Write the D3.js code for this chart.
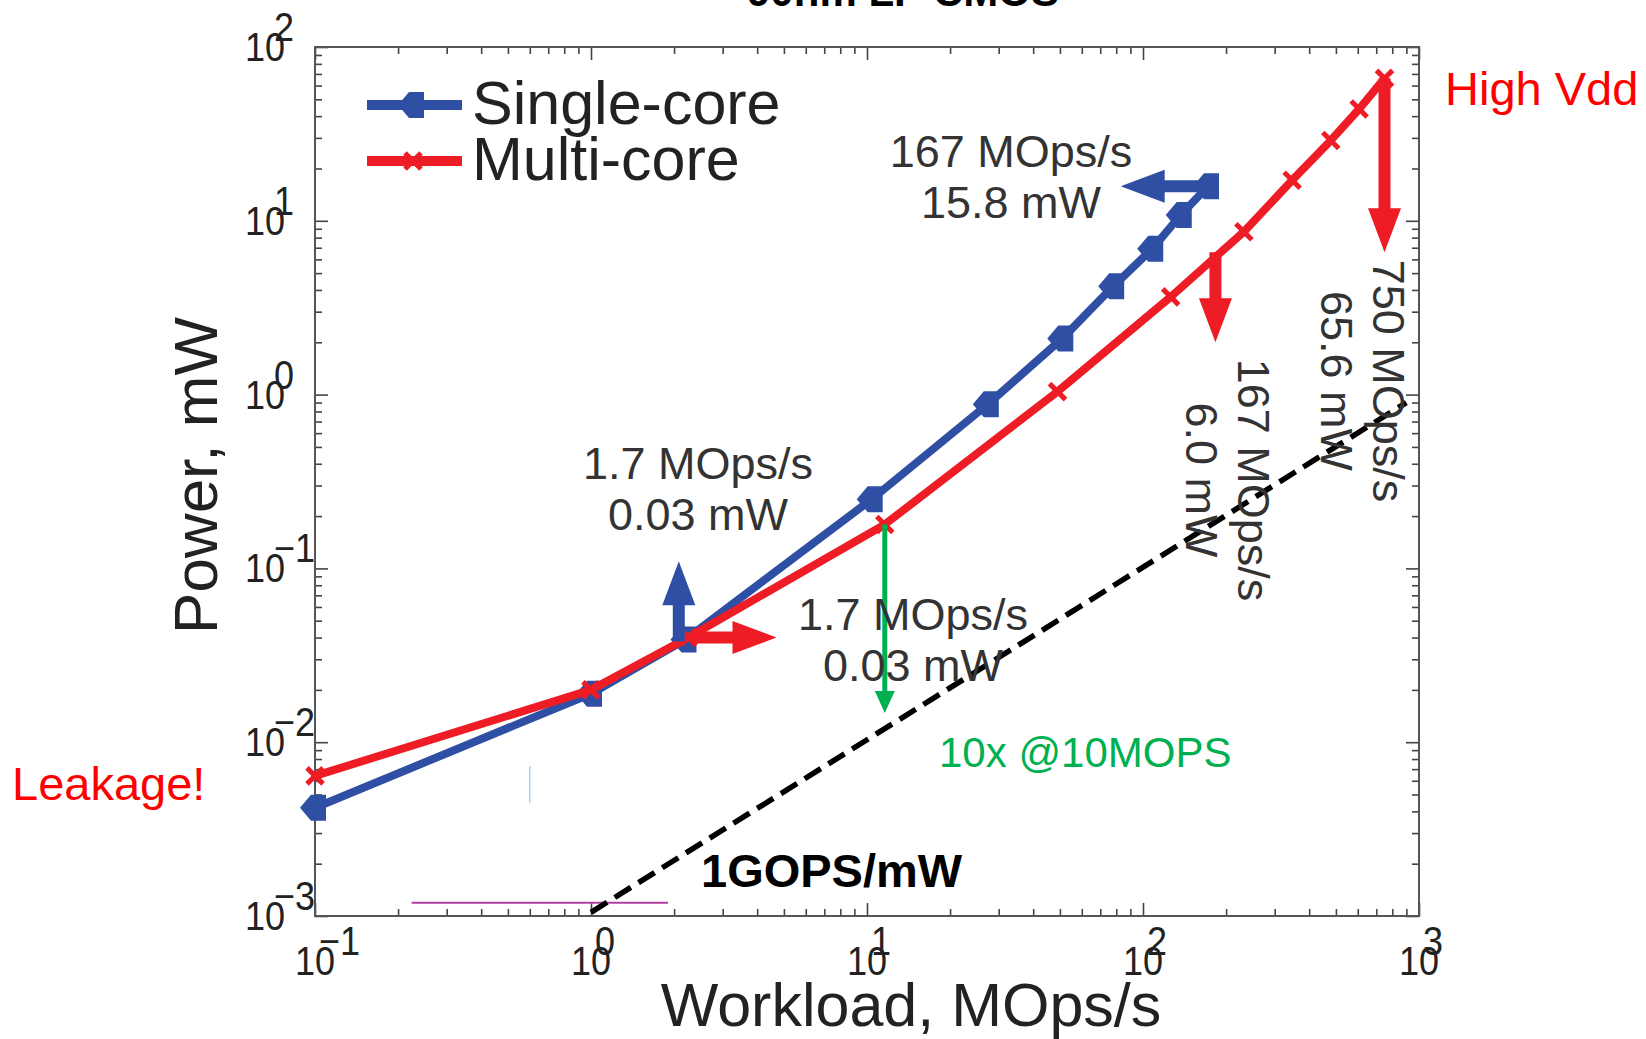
<!DOCTYPE html>
<html>
<head>
<meta charset="utf-8">
<script src="https://cdn.jsdelivr.net/npm/d3@7"></script>
<style>
  body { margin: 0; background: #fff; }
  text { font-family: "Liberation Sans", Arial, sans-serif; }
</style>
</head>
<body>
<script>
// Values
var workloadSingle = [0.1, 1.0, 2.2, 10.4, 27.4, 51, 78, 108, 137, 172];
var powerSingle = [0.0042, 0.019, 0.039, 0.25, 0.88, 2.1, 4.2, 6.9, 10.8, 15.8];
var workloadMulti = [0.1, 1.0, 2.25, 11.6, 49, 126, 232, 347, 479, 607, 750];
var powerMulti = [0.0064, 0.020, 0.040, 0.179, 1.04, 3.65, 8.65, 17.1, 29, 44, 66];
var seriesNames = ['Single-core', 'Multi-core'];

var xTickExp = [-1, 0, 1, 2, 3];
var yTickExp = [-3, -2, -1, 0, 1, 2];

// 1 GOPS/mW reference line
var efficiencyWorkload = [1, 900];
var efficiencyPower = [0.00105, 0.9];

// arrows: start and tip in data units, kind picks the colour
var arrowKind = ['single', 'multi', 'single', 'multi', 'multi', 'gain'];
var arrowStart = [[2.08, 0.038], [2.3, 0.040], [172, 15.8], [183, 6.6], [750, 66], [11.6, 0.179]];
var arrowTip = [[2.08, 0.11], [4.7, 0.040], [83, 15.8], [183, 2.0], [750, 6.6], [11.6, 0.0147]];

// stray marks left in the original figure
var strayPurple = [[0.224, 0.00119], [1.9, 0.00119]];
var strayBlue = [[0.60, 0.0073], [0.60, 0.0045]];

var blue = '#2e4fa3', red = '#ee1c25', green = '#00b050';
var kindColor = {single: blue, multi: red, gain: green};

// Graph dimensions
var margin = {top: 47, right: 227, bottom: 123, left: 315},
    width = 1646 - margin.left - margin.right,
    height = 1039 - margin.top - margin.bottom;

var x = d3.scaleLog().domain([0.1, 1000]).range([0, width]);
var y = d3.scaleLog().domain([0.001, 100]).range([height, 0]);

var svg = d3.select('body').append('svg')
    .attr('width', 1646)
    .attr('height', 1039);

var chart = svg.append('g')
    .attr('transform', 'translate(' + margin.left + ',' + margin.top + ')');

// Ticks on all four sides, pointing inward
var xMinor = [], yMinor = [];
for (var e = -1; e < 3; e++) for (var m = 2; m < 10; m++) xMinor.push(m * Math.pow(10, e));
for (var e2 = -3; e2 < 2; e2++) for (var m2 = 2; m2 < 10; m2++) yMinor.push(m2 * Math.pow(10, e2));
var xMajor = xTickExp.map(function(p) { return Math.pow(10, p); });
var yMajor = yTickExp.map(function(p) { return Math.pow(10, p); });

function tickGroup(axis, vals, len, tr) {
    var g = chart.append('g')
        .attr('transform', tr)
        .call(axis.tickValues(vals).tickSizeInner(-len).tickSizeOuter(0).tickFormat(''));
    g.select('.domain').remove();
    g.selectAll('line').attr('stroke', '#444').attr('stroke-width', 1.6);
}
tickGroup(d3.axisBottom(x), xMinor, 7, 'translate(0,' + height + ')');
tickGroup(d3.axisBottom(x), xMajor, 13, 'translate(0,' + height + ')');
tickGroup(d3.axisTop(x), xMinor, 7, 'translate(0,0)');
tickGroup(d3.axisTop(x), xMajor, 13, 'translate(0,0)');
tickGroup(d3.axisLeft(y), yMinor, 7, 'translate(0,0)');
tickGroup(d3.axisLeft(y), yMajor, 13, 'translate(0,0)');
tickGroup(d3.axisRight(y), yMinor, 7, 'translate(' + width + ',0)');
tickGroup(d3.axisRight(y), yMajor, 13, 'translate(' + width + ',0)');

chart.append('rect')
    .attr('width', width).attr('height', height)
    .attr('fill', 'none').attr('stroke', '#555').attr('stroke-width', 2);

// Tick labels, narrow "10" with an overlapping exponent of the same size
var squeeze = 0.9;
function narrowText(px, py, str, size, anchor) {
    chart.append('text')
        .attr('transform', 'translate(' + px + ',' + py + ') scale(' + squeeze + ',1)')
        .attr('text-anchor', anchor).attr('font-size', size).attr('fill', '#222').text(str);
}
function supText(p) { return p < 0 ? '\u2212' + (-p) : '' + p; }
xTickExp.forEach(function(p) {
    var px = x(Math.pow(10, p));
    narrowText(px, height + 59, '10', 40, 'middle');
    narrowText(px + 4, height + 39, supText(p), 40, 'start');
});
yTickExp.forEach(function(p) {
    var py = y(Math.pow(10, p));
    narrowText(-30, py + 14, '10', 40, 'end');
    narrowText(-41, py - 6, supText(p), 40, 'start');
});

// Axis titles
chart.append('text')
    .attr('x', 596).attr('y', height + 110)
    .attr('text-anchor', 'middle').attr('font-size', 61).attr('fill', '#222')
    .text('Workload, MOps/s');
chart.append('text')
    .attr('transform', 'translate(' + (-98) + ',' + (height / 2 - 6) + ') rotate(-90)')
    .attr('text-anchor', 'middle').attr('font-size', 62).attr('fill', '#222')
    .text('Power, mW');

// Title (cut by the top edge in the original)
svg.append('text')
    .attr('x', 903).attr('y', 6)
    .attr('text-anchor', 'middle').attr('font-size', 42).attr('font-weight', 'bold')
    .text('90nm LP CMOS');

// Stray marks
var line = d3.line()
    .x(function(d) { return x(d[0]); })
    .y(function(d) { return y(d[1]); });
chart.append('path').attr('d', line(strayPurple))
    .attr('stroke', '#b0409f').attr('stroke-width', 2).attr('fill', 'none');
chart.append('path').attr('d', line(strayBlue))
    .attr('stroke', '#9fd3e6').attr('stroke-width', 1.5).attr('fill', 'none');

// 1 GOPS/mW dashed line
chart.append('path')
    .attr('d', line(d3.zip(efficiencyWorkload, efficiencyPower)))
    .attr('stroke', '#000').attr('stroke-width', 5.5)
    .attr('stroke-dasharray', '19,9').attr('fill', 'none');

// Series
var singleData = d3.zip(workloadSingle, powerSingle);
var multiData = d3.zip(workloadMulti, powerMulti);

var blueMarker = 'M-15,0 L-4,-13 L11,-13 L11,13 L-4,13 Z';
function redMarker(g) {
    g.append('path').attr('d', 'M-8,-8 L8,8 M-8,8 L8,-8')
        .attr('stroke', red).attr('stroke-width', 5).attr('fill', 'none');
}

chart.append('path').attr('d', line(singleData))
    .attr('stroke', blue).attr('stroke-width', 8).attr('fill', 'none')
    .attr('stroke-linejoin', 'round');
chart.selectAll('.mSingle').data(singleData).enter().append('path')
    .attr('class', 'mSingle')
    .attr('transform', function(d) { return 'translate(' + x(d[0]) + ',' + y(d[1]) + ')'; })
    .attr('d', blueMarker).attr('fill', blue);

chart.append('path').attr('d', line(multiData))
    .attr('stroke', red).attr('stroke-width', 8).attr('fill', 'none')
    .attr('stroke-linejoin', 'round');
chart.selectAll('.mMulti').data(multiData).enter().append('g')
    .attr('class', 'mMulti')
    .attr('transform', function(d) { return 'translate(' + x(d[0]) + ',' + y(d[1]) + ')'; })
    .each(function() { redMarker(d3.select(this)); });

// Arrows
function arrowPath(x1, y1, x2, y2, shaft, headW, headL) {
    var dx = x2 - x1, dy = y2 - y1, len = Math.sqrt(dx * dx + dy * dy);
    var ux = dx / len, uy = dy / len, nx = -uy, ny = ux;
    var bx = x2 - ux * headL, by = y2 - uy * headL;
    var pts = [
        [x1 + nx * shaft / 2, y1 + ny * shaft / 2],
        [bx + nx * shaft / 2, by + ny * shaft / 2],
        [bx + nx * headW / 2, by + ny * headW / 2],
        [x2, y2],
        [bx - nx * headW / 2, by - ny * headW / 2],
        [bx - nx * shaft / 2, by - ny * shaft / 2],
        [x1 - nx * shaft / 2, y1 - ny * shaft / 2]
    ];
    return 'M' + pts.join('L') + 'Z';
}
arrowKind.forEach(function(k, i) {
    var thin = k === 'gain';
    chart.append('path')
        .attr('d', arrowPath(x(arrowStart[i][0]), y(arrowStart[i][1]),
                             x(arrowTip[i][0]), y(arrowTip[i][1]),
                             thin ? 5 : 12, thin ? 20 : 33, thin ? 22 : 44))
        .attr('fill', kindColor[k]);
});

// Legend
var legend = chart.append('g');
[blue, red].forEach(function(c, i) {
    var ly = 58 + i * 56;
    legend.append('line').attr('x1', 52).attr('x2', 147).attr('y1', ly).attr('y2', ly)
        .attr('stroke', c).attr('stroke-width', 10);
    if (i === 0) {
        legend.append('path').attr('d', blueMarker)
            .attr('transform', 'translate(98,' + ly + ')').attr('fill', blue);
    } else {
        redMarker(legend.append('g').attr('transform', 'translate(98,' + ly + ')'));
    }
    legend.append('text').attr('x', 157).attr('y', ly + 19)
        .attr('font-size', 61).attr('fill', '#222').text(seriesNames[i]);
});

// Annotations
function note(lines, cx, cy, size, color) {
    lines.forEach(function(t, i) {
        svg.append('text').attr('x', cx).attr('y', cy + i * 51)
            .attr('text-anchor', 'middle').attr('font-size', size)
            .attr('fill', color).text(t);
    });
}
function vnote(lines, bx, cy, size) {
    lines.forEach(function(t, i) {
        svg.append('text')
            .attr('transform', 'translate(' + (bx - i * 52) + ',' + cy + ') rotate(90)')
            .attr('text-anchor', 'middle').attr('font-size', size).attr('fill', '#333').text(t);
    });
}
note(['1.7 MOps/s', '0.03 mW'], 698, 479, 45, '#333');
note(['1.7 MOps/s', '0.03 mW'], 913, 630, 45, '#333');
note(['167 MOps/s', '15.8 mW'], 1011, 167, 45, '#333');
vnote(['167 MOps/s', '6.0 mW'], 1238, 480, 45);
vnote(['750 MOps/s', '65.6 mW'], 1373, 381, 45);

svg.append('text').attr('x', 1445).attr('y', 105)
    .attr('font-size', 47).attr('fill', '#ff0000').text('High Vdd');
svg.append('text').attr('x', 12).attr('y', 800)
    .attr('font-size', 47).attr('fill', '#ff0000').text('Leakage!');
svg.append('text').attr('x', 939).attr('y', 767)
    .attr('font-size', 42).attr('fill', green).text('10x @10MOPS');
svg.append('text').attr('x', 701).attr('y', 887)
    .attr('font-size', 47).attr('font-weight', 'bold').attr('fill', '#000').text('1GOPS/mW');
</script>
</body>
</html>
